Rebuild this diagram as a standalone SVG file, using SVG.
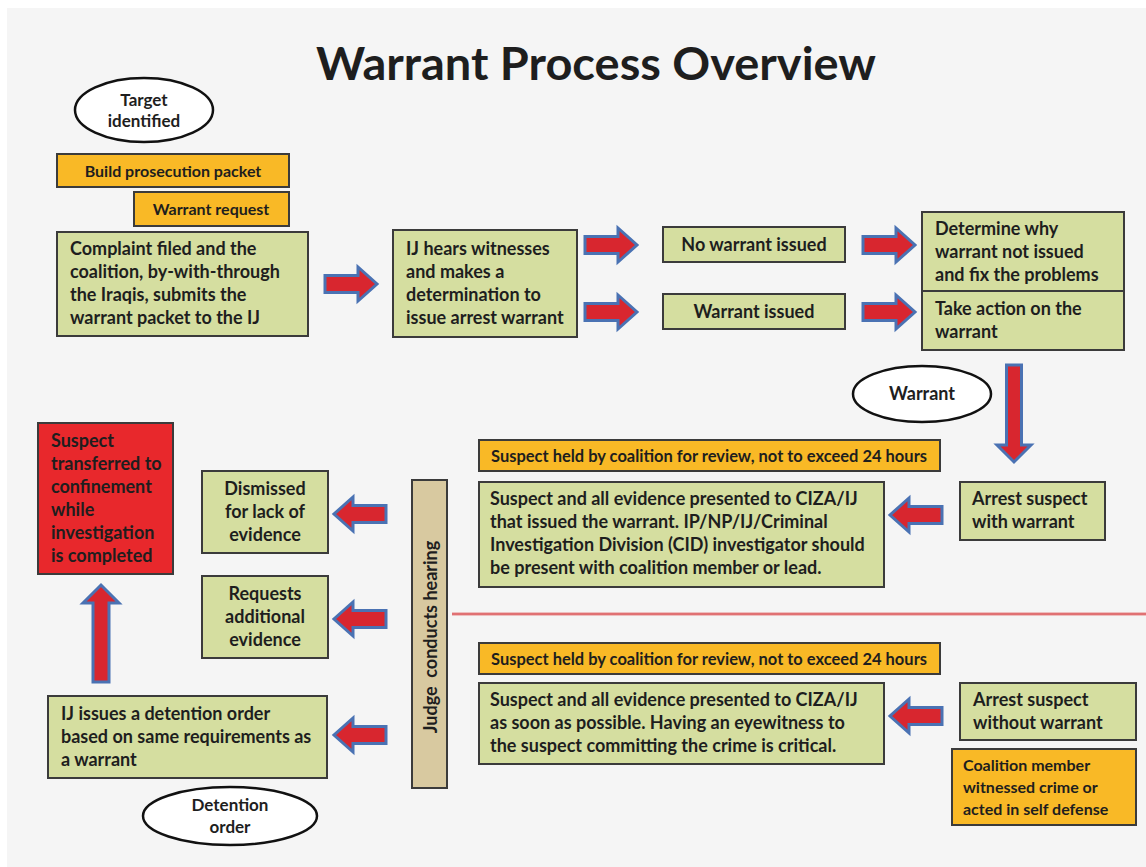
<svg xmlns="http://www.w3.org/2000/svg" width="1146" height="867" viewBox="0 0 1146 867">
  <style>
    text { font-family: "Lato", "Open Sans", "Liberation Sans", sans-serif; font-weight: 700; fill: #1e1e1e; }
    .t { font-size: 18px; }
    .s { font-size: 16px; }
    .h { font-size: 17px; }
    .c { text-anchor: middle; }
    .green { fill: #d5dea0; stroke: #3b3b3b; stroke-width: 2; }
    .gold { fill: #f9b926; stroke: #3b3b3b; stroke-width: 2; }
    .red { fill: #e8282c; stroke: #3b3b3b; stroke-width: 2; }
    .tan { fill: #d8c9a0; stroke: #3b3b3b; stroke-width: 2; }
    .oval { fill: #ffffff; stroke: #111111; stroke-width: 2.5; }
    .arrow { fill: #d8262f; stroke: #4a72b3; stroke-width: 3; stroke-linejoin: miter; }
  </style>
  <defs>
    <!-- block arrow pointing right, origin at the tail centre -->
    <path id="rArrow" class="arrow" d="M0,-8.5 H33 V-17 L52,0 L33,17 V8.5 H0 Z"/>
  </defs>

  <rect width="1146" height="867" fill="#ffffff"/>
  <rect x="7" y="8" width="1139" height="859" fill="#f5f5f5"/>

  <text x="596" y="80" class="c" style="font-size:46px" textLength="560" lengthAdjust="spacingAndGlyphs">Warrant Process Overview</text>

  <g id="target-identified">
    <ellipse cx="144" cy="110" rx="69" ry="32" class="oval"/>
    <text x="144" y="106" class="c" style="font-size:17px">Target</text>
    <text x="144" y="127" class="c" style="font-size:17px">identified</text>
  </g>
  <g id="build-packet">
    <rect x="57" y="154" width="232" height="33" class="gold"/>
    <text x="173" y="177" class="s c">Build prosecution packet</text>
  </g>
  <g id="warrant-request">
    <rect x="134" y="192" width="155" height="34" class="gold"/>
    <text x="211" y="215" class="s c">Warrant request</text>
  </g>
  <g id="complaint-filed">
    <rect x="57" y="232" width="251" height="104" class="green"/>
    <text class="t"><tspan x="70" y="255">Complaint filed and the</tspan><tspan x="70" y="278">coalition, by-with-through</tspan><tspan x="70" y="301">the Iraqis, submits the</tspan><tspan x="70" y="324">warrant packet to the IJ</tspan></text>
  </g>
  <g id="ij-hears">
    <rect x="393" y="230" width="184" height="107" class="green"/>
    <text class="t"><tspan x="406" y="255">IJ hears witnesses</tspan><tspan x="406" y="278">and makes a</tspan><tspan x="406" y="301">determination to</tspan><tspan x="406" y="324">issue arrest warrant</tspan></text>
  </g>
  <g id="no-warrant">
    <rect x="663" y="227" width="182" height="35" class="green"/>
    <text x="754" y="251" class="t c">No warrant issued</text>
  </g>
  <g id="warrant-issued">
    <rect x="663" y="294" width="182" height="35" class="green"/>
    <text x="754" y="318" class="t c">Warrant issued</text>
  </g>
  <g id="determine-why">
    <rect x="922" y="212" width="202" height="79" class="green"/>
    <text class="t"><tspan x="935" y="235">Determine why</tspan><tspan x="935" y="258">warrant not issued</tspan><tspan x="935" y="281">and fix the problems</tspan></text>
  </g>
  <g id="take-action">
    <rect x="922" y="291" width="202" height="59" class="green"/>
    <text class="t"><tspan x="935" y="315">Take action on the</tspan><tspan x="935" y="338">warrant</tspan></text>
  </g>
  <g id="warrant-label">
    <ellipse cx="922" cy="394" rx="69" ry="28" class="oval"/>
    <text x="922" y="400" class="c" style="font-size:18px">Warrant</text>
  </g>

  <g id="held-with-warrant">
    <rect x="479" y="440" width="461" height="31" class="gold"/>
    <text x="491" y="462" class="h" textLength="436" lengthAdjust="spacingAndGlyphs">Suspect held by coalition for review, not to exceed 24 hours</text>
  </g>
  <g id="presented-with-warrant">
    <rect x="479" y="482" width="405" height="105" class="green"/>
    <text class="t"><tspan x="490" y="505">Suspect and all evidence presented to CIZA/IJ</tspan><tspan x="490" y="528">that issued the warrant. IP/NP/IJ/Criminal</tspan><tspan x="490" y="551">Investigation Division (CID) investigator should</tspan><tspan x="490" y="574">be present with coalition member or lead.</tspan></text>
  </g>
  <g id="arrest-with-warrant">
    <rect x="960" y="482" width="145" height="58" class="green"/>
    <text class="t"><tspan x="972" y="505">Arrest suspect</tspan><tspan x="972" y="528">with warrant</tspan></text>
  </g>

  <g id="held-without-warrant">
    <rect x="479" y="643" width="461" height="31" class="gold"/>
    <text x="491" y="665" class="h" textLength="436" lengthAdjust="spacingAndGlyphs">Suspect held by coalition for review, not to exceed 24 hours</text>
  </g>
  <g id="presented-without-warrant">
    <rect x="479" y="683" width="405" height="81" class="green"/>
    <text class="t"><tspan x="490" y="706">Suspect and all evidence presented to CIZA/IJ</tspan><tspan x="490" y="729">as soon as possible. Having an eyewitness to</tspan><tspan x="490" y="752">the suspect committing the crime is critical.</tspan></text>
  </g>
  <g id="arrest-without-warrant">
    <rect x="960" y="683" width="176" height="57" class="green"/>
    <text class="t"><tspan x="973" y="706">Arrest suspect</tspan><tspan x="973" y="729">without warrant</tspan></text>
  </g>
  <g id="coalition-witnessed">
    <rect x="952" y="749" width="184" height="76" class="gold"/>
    <text class="s"><tspan x="963" y="771">Coalition member</tspan><tspan x="963" y="793">witnessed crime or</tspan><tspan x="963" y="815">acted in self defense</tspan></text>
  </g>

  <g id="judge-hearing">
    <rect x="412" y="480" width="35" height="308" class="tan"/>
    <text transform="translate(437,637) rotate(-90)" class="c" style="font-size:18px" xml:space="preserve">Judge  conducts hearing</text>
  </g>
  <g id="dismissed">
    <rect x="202" y="471" width="126" height="82" class="green"/>
    <text class="t c"><tspan x="265" y="495">Dismissed</tspan><tspan x="265" y="518">for lack of</tspan><tspan x="265" y="541">evidence</tspan></text>
  </g>
  <g id="requests-evidence">
    <rect x="202" y="576" width="126" height="82" class="green"/>
    <text class="t c"><tspan x="265" y="600">Requests</tspan><tspan x="265" y="623">additional</tspan><tspan x="265" y="646">evidence</tspan></text>
  </g>
  <g id="detention-order">
    <rect x="48" y="696" width="279" height="82" class="green"/>
    <text class="t"><tspan x="61" y="720">IJ issues a detention order</tspan><tspan x="61" y="743">based on same requirements as</tspan><tspan x="61" y="766">a warrant</tspan></text>
  </g>
  <g id="confinement">
    <rect x="38" y="423" width="135" height="151" class="red"/>
    <text class="t"><tspan x="51" y="447">Suspect</tspan><tspan x="51" y="470">transferred to</tspan><tspan x="51" y="493">confinement</tspan><tspan x="51" y="516">while</tspan><tspan x="51" y="539">investigation</tspan><tspan x="51" y="562">is completed</tspan></text>
  </g>
  <g id="detention-label">
    <ellipse cx="230" cy="816" rx="87" ry="29" class="oval"/>
    <text x="230" y="811" class="c" style="font-size:17px">Detention</text>
    <text x="230" y="833" class="c" style="font-size:17px">order</text>
  </g>

  <g id="connectors">
    <!-- separator between the with-warrant and without-warrant paths -->
    <line x1="452" y1="614" x2="1146" y2="614" stroke="#e78a8a" stroke-width="3"/>
    <line x1="452" y1="614" x2="1146" y2="614" stroke="#d9585c" stroke-width="1"/>
    <use href="#rArrow" transform="translate(325,284)"/>
    <use href="#rArrow" transform="translate(585,245)"/>
    <use href="#rArrow" transform="translate(585,312)"/>
    <use href="#rArrow" transform="translate(863,245)"/>
    <use href="#rArrow" transform="translate(863,312)"/>
    <use href="#rArrow" transform="translate(942,515) rotate(180)"/>
    <use href="#rArrow" transform="translate(942,716) rotate(180)"/>
    <use href="#rArrow" transform="translate(386,514) rotate(180)"/>
    <use href="#rArrow" transform="translate(386,619) rotate(180)"/>
    <use href="#rArrow" transform="translate(386,735) rotate(180)"/>
    <!-- long vertical arrows -->
    <path class="arrow" d="M1006.5,365 H1021.5 V445 H1031 L1014,462 L997,445 H1006.5 Z"/>
    <path class="arrow" d="M93,682 V603 H83 L101,585 L119,603 H109 V682 Z"/>
  </g>
</svg>
